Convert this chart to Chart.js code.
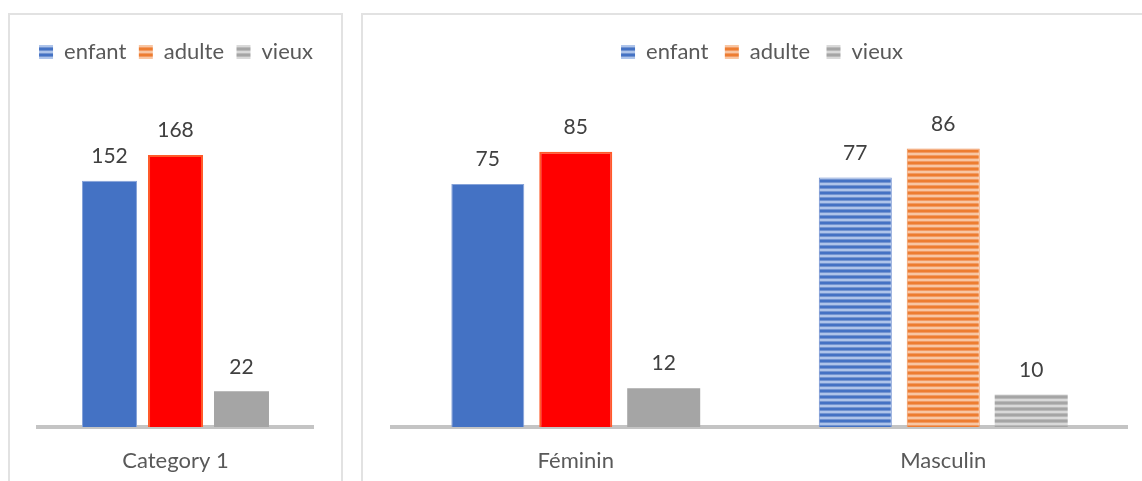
<!DOCTYPE html>
<html>
<head>
<meta charset="utf-8">
<script src="https://cdn.jsdelivr.net/npm/chart.js@4"></script>
<style>
  html, body { margin: 0; padding: 0; background: #fff; overflow: hidden; }
  body { width: 1142px; height: 481px; position: relative; }
  .panel { position: absolute; border: 2px solid #e2e2e2; box-sizing: border-box; }
  #panelA { left: 8px; top: 13px; width: 335px; height: 520px; }
  #panelB { left: 361px; top: 13px; width: 820px; height: 520px; }
  canvas { position: absolute; top: 0; }
  #chartA { left: 0; }
  #chartB { left: 382px; }
</style>
</head>
<body>
<div class="panel" id="panelA"></div>
<div class="panel" id="panelB"></div>
<canvas id="chartA" width="352" height="481"></canvas>
<canvas id="chartB" width="760" height="481"></canvas>
<script>
// --- data ---
var seriesNames = ['enfant', 'adulte', 'vieux']

var catsA = ['Category 1']
var enfantA = [152]
var adulteA = [168]
var vieuxA = [22]

var catsB = ['Féminin', 'Masculin']
var enfantB = [75, 77]
var adulteB = [85, 86]
var vieuxB = [12, 10]

// --- colours ---
var blue = '#4472C4'
var red = '#FF0000'
var grey = '#A5A5A5'
var textCol = '#595959'
var labelCol = '#404040'
var FONT = 'Lato, "Open Sans", sans-serif'

// horizontal line pattern (Excel "narrow horizontal" fill)
function stripes(dark, mid, light) {
    var c = document.createElement('canvas')
    c.width = 1
    c.height = 6
    var g = c.getContext('2d')
    var rows = [dark, dark, mid, light, light, mid]
    rows.forEach((col, i) => {
        g.fillStyle = col
        g.fillRect(0, i, 1, 1)
    })
    return g.createPattern(c, 'repeat')
}
var blueStripe = stripes('#4472C4', '#7294d1', '#aec4ea')
var orangeStripe = stripes('#ED7D31', '#f29a62', '#f8c6a3')
var greyStripe = stripes('#A5A5A5', '#b9b9b9', '#d9d9d9')
var legendFills = [blueStripe, orangeStripe, greyStripe]

// value labels above bars
var valueLabels = {
    id: 'valueLabels',
    afterDatasetsDraw(chart) {
        var ctx = chart.ctx
        ctx.save()
        ctx.font = '21px ' + FONT
        ctx.fillStyle = labelCol
        ctx.textAlign = 'center'
        ctx.textBaseline = 'middle'
        chart.data.datasets.forEach((ds, i) => {
            var meta = chart.getDatasetMeta(i)
            meta.data.forEach((bar, j) => {
                ctx.fillText(ds.data[j], bar.x, bar.y - 24.5)
            })
        })
        ctx.restore()
    }
}

// empty side axes just reserve room so the legend can use the full width
function spacer(pos, w) {
    return {
        type: 'linear', position: pos, display: true,
        grid: { display: false, drawTicks: false },
        border: { display: false },
        ticks: { display: false },
        afterFit: scale => { scale.width = w }
    }
}

function makeOptions(yMax, leftW, rightW, legendPad) {
    return {
        responsive: false,
        animation: false,
        layout: { padding: { left: 0, right: 0, top: 41 - legendPad, bottom: 0 } },
        plugins: {
            tooltip: { enabled: false },
            legend: {
                position: 'top',
                labels: {
                    boxWidth: 14,
                    boxHeight: 14,
                    padding: legendPad,
                    color: textCol,
                    font: { family: FONT, size: 22 },
                    generateLabels: chart => chart.data.datasets.map((ds, i) => ({
                        text: ds.label,
                        fillStyle: legendFills[i],
                        strokeStyle: 'rgba(0,0,0,0)',
                        lineWidth: 0,
                        hidden: false,
                        datasetIndex: i,
                        fontColor: textCol
                    }))
                }
            }
        },
        scales: {
            x: {
                grid: { display: false, drawTicks: false },
                border: { display: true, color: '#c4c4c4', width: 4 },
                ticks: { color: textCol, padding: 21, font: { family: FONT, size: 22 } },
                afterFit: scale => { scale.height = 54 }
            },
            y: Object.assign(spacer('left', leftW), { min: 0, max: yMax }),
            pad: spacer('right', rightW)
        }
    }
}

// left chart: single category
new Chart(document.getElementById('chartA'), {
    type: 'bar',
    data: {
        labels: catsA,
        datasets: [
            { label: seriesNames[0], data: enfantA, backgroundColor: blue, borderColor: '#86a3d9', borderWidth: 1,
              categoryPercentage: 0.72, barPercentage: 0.833 },
            { label: seriesNames[1], data: adulteA, backgroundColor: red, borderColor: '#ff5a2a', borderWidth: 2,
              categoryPercentage: 0.72, barPercentage: 0.833 },
            { label: seriesNames[2], data: vieuxA, backgroundColor: grey, borderWidth: 0,
              categoryPercentage: 0.72, barPercentage: 0.833 }
        ]
    },
    options: makeOptions(218.6, 38, 39, 12.5),
    plugins: [valueLabels]
})

// right chart: Féminin solid, Masculin striped
new Chart(document.getElementById('chartB'), {
    type: 'bar',
    data: {
        labels: catsB,
        datasets: [
            { label: seriesNames[0], data: enfantB, backgroundColor: [blue, blueStripe],
              borderColor: ['#86a3d9', '#6f8fcf'], borderWidth: 1,
              categoryPercentage: 0.718, barPercentage: 0.83 },
            { label: seriesNames[1], data: adulteB, backgroundColor: [red, orangeStripe],
              borderColor: ['#ff5a2a', '#f0945a'], borderWidth: [2, 1],
              categoryPercentage: 0.718, barPercentage: 0.83 },
            { label: seriesNames[2], data: vieuxB, backgroundColor: [grey, greyStripe], borderWidth: 0,
              categoryPercentage: 0.718, barPercentage: 0.83 }
        ]
    },
    options: makeOptions(109.3, 10, 15, 16.5),
    plugins: [valueLabels]
})
</script>
</body>
</html>
